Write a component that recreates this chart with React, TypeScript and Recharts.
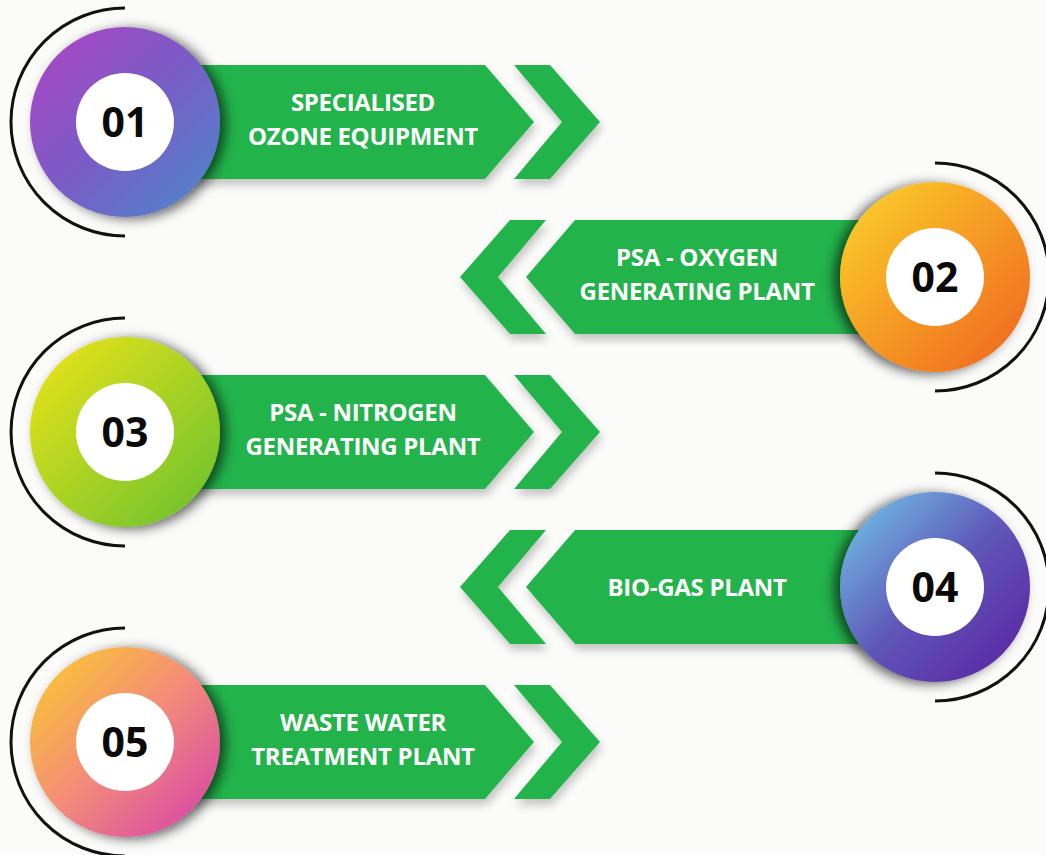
import { ScatterChart, Scatter, XAxis, YAxis } from "recharts";

// step data
const stepNumbers = ["01", "02", "03", "04", "05"];
const stepTitles = [
  ["SPECIALISED", "OZONE EQUIPMENT"],
  ["PSA - OXYGEN", "GENERATING PLANT"],
  ["PSA - NITROGEN", "GENERATING PLANT"],
  ["BIO-GAS PLANT"],
  ["WASTE WATER", "TREATMENT PLANT"],
];
const stepSides = [0, 1, 0, 1, 0]; // 0 = circle on the left, 1 = circle on the right
const stepRows = [1, 2, 3, 4, 5];

// gradient stops for each badge (top-left -> bottom-right)
const badgeColors = [
  ["#b044c4", "#7a5cc6", "#4a8aca"],
  ["#fbd52b", "#ef611f"],
  ["#f0e519", "#66c02f"],
  ["#74cdec", "#5f57b8", "#5a1d9f"],
  ["#fbcf29", "#f48b7a", "#d23dae"],
];

const GREEN = "#22b34c";

const data = stepNumbers.map((num, i) => ({
  num,
  title: stepTitles[i],
  side: stepSides[i],
  row: stepRows[i],
  idx: i,
}));

const StepShape = (props: any) => {
  const { cx, cy, payload } = props;
  if (cx == null || cy == null) return null;
  const i = payload.idx;
  const dir = payload.side === 0 ? 1 : -1;
  const X = (d: number) => cx + dir * d;
  const h = 57;

  const pts = (arr: number[][]) => arr.map((p) => `${p[0]},${p[1]}`).join(" ");
  const band = [
    [X(40), cy - h],
    [X(360), cy - h],
    [X(409), cy],
    [X(360), cy + h],
    [X(40), cy + h],
  ];
  const chevron = [
    [X(389), cy - h],
    [X(425), cy - h],
    [X(475), cy],
    [X(425), cy + h],
    [X(389), cy + h],
    [X(437), cy],
  ];
  const R = 114;
  const arc = `M ${cx} ${cy - R} A ${R} ${R} 0 0 ${dir === 1 ? 0 : 1} ${cx} ${cy + R}`;
  const colors = badgeColors[i];
  const lines: string[] = payload.title;
  const textX = X(238);
  const baselines = lines.length === 1 ? [cy + 9] : [cy - 11, cy + 23];

  return (
    <g>
      <defs>
        <linearGradient id={`badge${i}`} x1="0" y1="0" x2="1" y2="1">
          {colors.map((c: string, k: number) => (
            <stop key={k} offset={k / (colors.length - 1)} stopColor={c} />
          ))}
        </linearGradient>
        <filter id={`bandShadow${i}`} x="-20%" y="-40%" width="140%" height="190%">
          <feDropShadow dx={2} dy={6} stdDeviation={4} floodColor="#000" floodOpacity={0.22} />
        </filter>
        <filter id={`badgeShadow${i}`} x="-30%" y="-30%" width="160%" height="160%">
          <feDropShadow dx={6 * dir} dy={2} stdDeviation={6} floodColor="#000" floodOpacity={0.6} />
        </filter>
      </defs>
      <path d={arc} fill="none" stroke="#111" strokeWidth={3} />
      <polygon points={pts(band)} fill={GREEN} filter={`url(#bandShadow${i})`} />
      <polygon points={pts(chevron)} fill={GREEN} filter={`url(#bandShadow${i})`} />
      {lines.map((t, k) => (
        <text
          key={k}
          x={textX}
          y={baselines[k]}
          textAnchor="middle"
          fill="#ffffff"
          fontFamily="'Open Sans', sans-serif"
          fontWeight={700}
          fontSize={24}
          letterSpacing={-0.3}
        >
          {t}
        </text>
      ))}
      <circle cx={cx} cy={cy} r={95} fill={`url(#badge${i})`} filter={`url(#badgeShadow${i})`} />
      <circle cx={cx} cy={cy} r={49} fill="#ffffff" />
      <text
        x={cx}
        y={cy + 15}
        textAnchor="middle"
        fill="#0a0a0a"
        fontFamily="'Open Sans', sans-serif"
        fontWeight={700}
        fontSize={41}
      >
        {payload.num}
      </text>
    </g>
  );
};

export default function App() {
  return (
    <div style={{ width: 1046, height: 855, background: "#fbfbfa" }}>
      <style>{`body{margin:0;background:#fbfbfa;}`}</style>
      <ScatterChart width={1046} height={855} margin={{ top: 0, right: 0, bottom: 0, left: 0 }}>
        <XAxis type="number" dataKey="side" hide domain={[-0.1543, 1.137]} allowDataOverflow />
        <YAxis type="number" dataKey="row" hide reversed domain={[0.2129, 5.729]} allowDataOverflow />
        <Scatter data={data} isAnimationActive={false} shape={(p: any) => <StepShape {...p} />} />
      </ScatterChart>
    </div>
  );
}
